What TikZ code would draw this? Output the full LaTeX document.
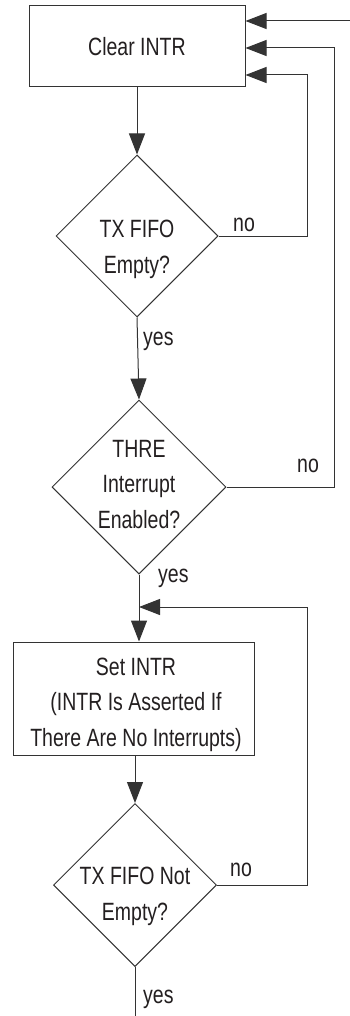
\documentclass[tikz,border=0pt]{standalone}
\usepackage{fontspec}
\setmainfont{Liberation Sans}[FakeStretch=0.78]
\usetikzlibrary{arrows.meta,shapes.geometric}
\definecolor{ln}{HTML}{333333}
\definecolor{tx}{HTML}{231F20}
\begin{document}
\begin{tikzpicture}[x=1pt,y=-1pt,
  line/.style={draw=ln,line width=1pt},
  arr/.style={line,-{Triangle[length=21pt,width=16pt]}},
  box/.style={draw=ln,line width=1pt,rectangle,inner sep=0pt},
  dia/.style={draw=ln,line width=1pt,diamond,inner sep=0pt,aspect=1},
  txt/.style={text=tx,font=\fontsize{25}{35.5}\selectfont,align=center,inner sep=0pt,anchor=base},
  lab/.style={text=tx,font=\fontsize{25}{30}\selectfont,inner sep=0pt,anchor=base west}]
\useasboundingbox (0,0) rectangle (350,1016);

% shapes
\node[box,minimum width=216pt,minimum height=81pt,text=tx,font=\fontsize{25}{30}\selectfont] (clear) at (137,46.5) {Clear INTR};
\node[dia,minimum width=162pt,minimum height=162pt] (d1) at (137,236) {};
\node[dia,minimum width=174pt,minimum height=174pt] (d2) at (139,487) {};
\node[box,minimum width=241pt,minimum height=113pt] (set) at (133.5,698.5) {};
\node[dia,minimum width=163pt,minimum height=163pt] (d3) at (135,885) {};

% texts (anchor base = baseline of last line)
\node[txt] (t1) at (137,273) {TX FIFO\\Empty?};
\node[txt] (t2) at (139,528) {THRE\\Interrupt\\Enabled?};
\node[txt] (ts) at (136,746) {Set INTR\\(INTR Is Asserted If\\There Are No Interrupts)};
\node[txt] (t3) at (135,920) {TX FIFO Not\\Empty?};

% labels
\node[lab] (no1) at (233,232) {no};
\node[lab] (yes1) at (143,345) {yes};
\node[lab] (no2) at (297,472) {no};
\node[lab] (yes2) at (158,582) {yes};
\node[lab] (no3) at (230,876) {no};
\node[lab] (yes3) at (143,1003) {yes};

% free ends
\coordinate (in0) at (350,21);
\coordinate (out0) at (135,1016);

% connectors
\draw[arr] (in0) -- (clear.east |- in0);
\draw[arr] (clear.south) -- (d1.north);
\draw[arr] (d1.south) -- (d2.north);
\draw[arr] (d1.east) -| (307,75) -- (clear.east |- 0,75);
\draw[arr] (d2.east) -| (334,48) -- (clear.east |- 0,48);
\draw[arr] (d2.south) -- (d2.south |- set.north);
\draw[arr] (set.south -| d3.north) -- (d3.north);
\draw[arr] (d3.east) -| (307,607) -- (d2.south |- 0,607);
\draw[line] (d3.south) -- (out0);
\end{tikzpicture}
\end{document}
